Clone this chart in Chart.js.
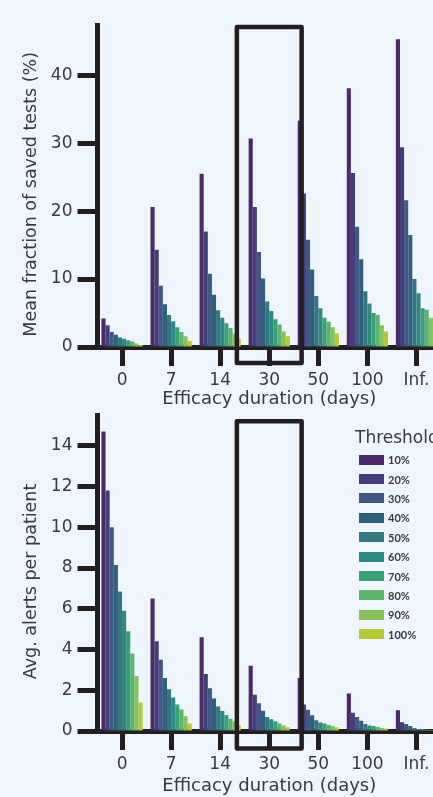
<!DOCTYPE html>
<html>
<head>
<meta charset="utf-8">
<script src="https://cdn.jsdelivr.net/npm/chart.js@4.4.1/dist/chart.umd.min.js"></script>
<style>
  html, body { margin: 0; padding: 0; background: #eff5fd; width: 433px; height: 797px; overflow: hidden; }
  .panel { position: absolute; left: 0; }
  #topPanel { top: 0; }
  #bottomPanel { top: 400px; }
  #legend { position: absolute; left: 355px; top: 426px; color: #3a3a3a; white-space: nowrap; }
  #legend .title { font-family: "DejaVu Sans", sans-serif; font-size: 17px; line-height: 22px; margin-bottom: 2px; }
  #legend .row { height: 19.4px; display: flex; align-items: center; margin-left: 4px; }
  #legend .sw { width: 25px; height: 10px; margin-right: 4px; }
  #legend .lab { font-family: Lato, sans-serif; font-size: 11px; font-weight: 700; }
</style>
</head>
<body>
<div class="panel" id="topPanel"><canvas id="savedChart" width="441" height="410"></canvas></div>
<div class="panel" id="bottomPanel"><canvas id="alertsChart" width="441" height="397"></canvas></div>
<div id="legend"></div>
<script>
// efficacy durations on the x axis, one bar per threshold in each group
const categories = ['0', '7', '14', '30', '50', '100', 'Inf.'];
const thresholds = ['10%', '20%', '30%', '40%', '50%', '60%', '70%', '80%', '90%', '100%'];
const colors = ['#4b2a6a', '#453e7b', '#3f5884', '#2e5f7b', '#357780', '#2d8a7c', '#3c9f78', '#5db46d', '#86c15a', '#b4c83a'];
const highlightCategory = '30';

// mean fraction of saved tests (%), per duration, thresholds 10% -> 100%
const saved_0   = [4.2, 3.2, 2.2, 1.8, 1.4, 1.2, 1.0, 0.8, 0.5, 0.3];
const saved_7   = [20.6, 14.3, 9.0, 6.3, 4.7, 3.8, 2.9, 2.2, 1.6, 0.9];
const saved_14  = [25.5, 17.0, 10.8, 7.7, 5.4, 4.3, 3.5, 2.8, 2.0, 1.2];
const saved_30  = [30.7, 20.6, 14.0, 10.1, 6.7, 5.3, 4.1, 3.3, 2.3, 1.6];
const saved_50  = [33.3, 22.6, 15.8, 11.4, 7.5, 5.7, 4.3, 3.7, 2.9, 2.0];
const saved_100 = [38.1, 25.6, 17.7, 12.9, 8.2, 6.4, 5.0, 4.7, 3.2, 2.3];
const saved_inf = [45.3, 29.4, 21.6, 16.5, 10.0, 7.9, 5.7, 5.5, 4.3, 3.0];

// average alerts per patient
const alerts_0   = [14.7, 11.8, 10.0, 8.15, 6.85, 5.9, 4.9, 3.8, 2.7, 1.4];
const alerts_7   = [6.5, 4.4, 3.5, 2.6, 2.05, 1.65, 1.3, 1.05, 0.72, 0.37];
const alerts_14  = [4.6, 2.8, 2.1, 1.6, 1.2, 0.98, 0.78, 0.6, 0.48, 0.29];
const alerts_30  = [3.2, 1.78, 1.36, 1.0, 0.69, 0.58, 0.48, 0.37, 0.27, 0.18];
const alerts_50  = [2.6, 1.3, 1.04, 0.77, 0.53, 0.42, 0.37, 0.29, 0.24, 0.18];
const alerts_100 = [1.84, 0.9, 0.69, 0.5, 0.34, 0.27, 0.24, 0.2, 0.15, 0.12];
const alerts_inf = [1.02, 0.43, 0.34, 0.24, 0.15, 0.1, 0.08, 0.06, 0.05, 0.04];

const savedRows = [saved_0, saved_7, saved_14, saved_30, saved_50, saved_100, saved_inf];
const alertRows = [alerts_0, alerts_7, alerts_14, alerts_30, alerts_50, alerts_100, alerts_inf];

const INK = '#231f20';
const TEXT = '#3a3a3a';
const FONT = '"DejaVu Sans", sans-serif';

function buildDatasets(rows) {
    return thresholds.map((t, i) => ({
        label: t,
        data: rows.map(r => r[i]),
        backgroundColor: colors[i],
        borderWidth: 0,
        categoryPercentage: 0.84,
        barPercentage: 1.0
    }));
}

// black frame around the highlighted duration
const highlightBox = {
    id: 'highlightBox',
    afterDraw(chart, args, opts) {
        const x = chart.scales.x;
        const area = chart.chartArea;
        const ctx = chart.ctx;
        const cx = x.getPixelForValue(categories.indexOf(highlightCategory));
        const half = x.width / categories.length * 0.66;
        const top = area.top + opts.top;
        const bottom = area.bottom + opts.bottom;
        ctx.save();
        ctx.strokeStyle = INK;
        ctx.lineWidth = 4.5;
        ctx.lineJoin = 'round';
        ctx.strokeRect(cx - half, top, half * 2, bottom - top);
        ctx.restore();
    }
};

function makeChart(id, rows, yTitle, yMax, yStep, padTop, xHeight, box) {
    return new Chart(document.getElementById(id), {
        type: 'bar',
        data: { labels: categories, datasets: buildDatasets(rows) },
        plugins: [highlightBox],
        options: {
            responsive: false,
            animation: false,
            layout: { padding: { top: padTop, left: 0, right: 0, bottom: 0 } },
            plugins: { legend: { display: false }, tooltip: { enabled: false }, highlightBox: box },
            scales: {
                x: {
                    afterFit: s => { s.height = xHeight; },
                    grid: { offset: false, drawOnChartArea: false, tickLength: 19, tickWidth: 5, tickColor: INK, color: INK },
                    border: { display: true, color: INK, width: 5 },
                    ticks: { color: TEXT, font: { family: FONT, size: 17 }, padding: 4, maxRotation: 0 },
                    title: { display: true, text: 'Efficacy duration (days)', color: TEXT, font: { family: FONT, size: 18 }, padding: { top: 0, bottom: 0 } }
                },
                y: {
                    min: 0,
                    max: yMax,
                    afterFit: s => { s.width = 97.5; },
                    afterBuildTicks: s => { s.ticks = s.ticks.filter(t => Math.abs(t.value / yStep - Math.round(t.value / yStep)) < 1e-6); },
                    grid: { drawOnChartArea: false, tickLength: 20, tickWidth: 5, tickColor: INK, color: INK },
                    border: { display: true, color: INK, width: 5 },
                    ticks: { stepSize: yStep, color: TEXT, font: { family: FONT, size: 17 }, padding: 5 },
                    title: { display: true, text: yTitle, color: TEXT, font: { family: FONT, size: 17.5 }, padding: { top: 21, bottom: 0 } }
                }
            }
        }
    });
}

makeChart('savedChart', savedRows, 'Mean fraction of saved tests (%)   ', 47.4, 10, 25, 63, { top: 2, bottom: 16 });
makeChart('alertsChart', alertRows, 'Avg. alerts per patient   ', 15.5, 2, 8, 66, { top: 6, bottom: 17.5 });

// threshold legend
const legend = document.getElementById('legend');
legend.innerHTML = '<div class="title">Threshold</div>' + thresholds.map((t, i) =>
    `<div class="row"><div class="sw" style="background:${colors[i]}"></div><span class="lab">${t}</span></div>`).join('');
</script>
</body>
</html>
